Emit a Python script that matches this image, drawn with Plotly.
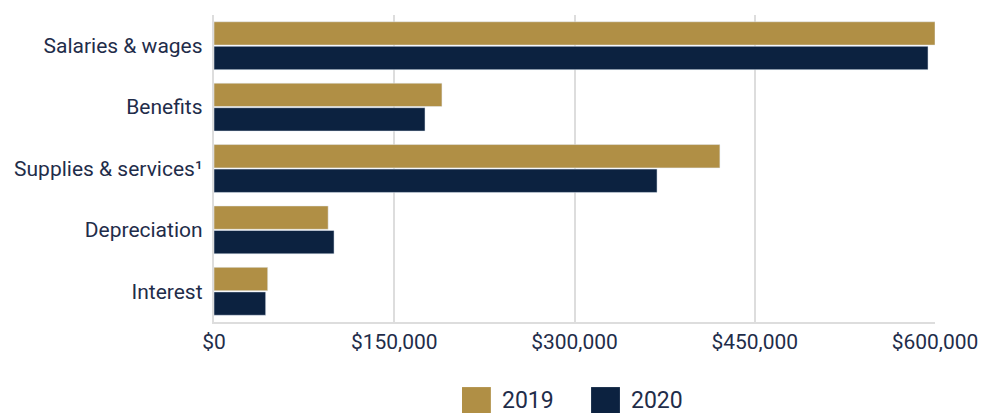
import plotly.graph_objects as go

categorias = ['Salaries & wages', 'Benefits', 'Supplies & services¹', 'Depreciation', 'Interest']
valores_2019 = [600000, 189700, 421000, 95000, 44700]
valores_2020 = [594200, 175600, 368700, 99900, 43000]
ticks = [0, 150000, 300000, 450000, 600000]
etiquetas = ['$0', '$150,000', '$300,000', '$450,000', '$600,000']

texto = '#1f2d4a'
oro = '#b08f45'
azul = '#0c2240'

fig = go.Figure()
fig.add_trace(go.Bar(y=categorias, x=valores_2019, name='2019', orientation='h',
                     marker_color=oro, showlegend=False))
fig.add_trace(go.Bar(y=categorias, x=valores_2020, name='2020', orientation='h',
                     marker_color=azul, showlegend=False))

# leyenda dibujada a mano (cuadros grandes), en coordenadas de papel
leyenda = [('2019', oro, 0.344), ('2020', azul, 0.523)]
for nombre, color, x0 in leyenda:
    fig.add_shape(type='rect', xref='paper', yref='paper', x0=x0, x1=x0 + 0.040,
                  y0=-0.303, y1=-0.212, fillcolor=color, line_width=0)
    fig.add_annotation(text=nombre, xref='paper', yref='paper', x=x0 + 0.053, y=-0.257,
                       xanchor='left', yanchor='middle', showarrow=False,
                       font=dict(size=23, color=texto))

# la pagina tiene 8px de margen en el body
fig.update_layout(
    width=978, height=405,
    margin=dict(l=206, r=51, t=7, b=91, autoexpand=False),
    barmode='group', bargap=0.2, bargroupgap=0.05,
    plot_bgcolor='white', paper_bgcolor='white',
    font=dict(family='Roboto', color=texto, size=21),
    showlegend=False,
)
fig.update_xaxes(range=[0, 600000], tickvals=ticks, ticktext=etiquetas,
                 showgrid=True, gridcolor='#dddddd', gridwidth=2,
                 showline=True, linecolor='#dddddd', linewidth=2,
                 zeroline=False, ticks='', tickfont=dict(size=21), automargin=False)
fig.update_yaxes(autorange='reversed', showline=True, linecolor='#dddddd', linewidth=2,
                 ticks='', ticksuffix=' ', tickfont=dict(size=21), automargin=False)

fig.write_html('out.html')
